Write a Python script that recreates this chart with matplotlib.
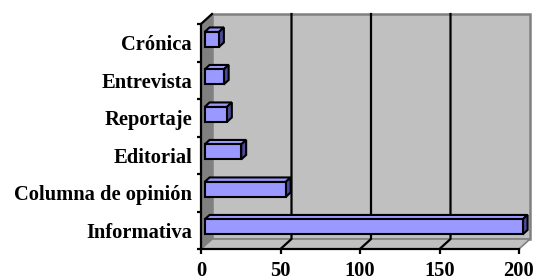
import matplotlib
matplotlib.use("Agg")
import matplotlib.pyplot as plt
from matplotlib.patches import Polygon

categories = ["Informativa", "Columna de opinión", "Editorial",
              "Reportaje", "Entrevista", "Crónica"]
values = [200, 51, 23, 14, 12, 9]
xticks = [0, 50, 100, 150, 200]

plt.rcParams["font.family"] = ["Liberation Serif", "DejaVu Serif"]
plt.rcParams["font.weight"] = "bold"

W, H = 536, 280
fig = plt.figure(figsize=(W / 100, H / 100), dpi=100)

# front plane of the 3d box, in pixels
left, right, top, bottom = 201, 519, 24, 249
ax = fig.add_axes([left / W, 1 - bottom / H, (right - left) / W, (bottom - top) / H])
xmax = xticks[-1]
n = len(categories)
ax.set_xlim(0, xmax)
ax.set_ylim(-0.5, n - 0.5)
ax.patch.set_visible(False)

# depth of the box (back wall offset), converted to data units
dx = 11 * xmax / (right - left)
dy = 10 * n / (bottom - top)
y0, y1 = -0.5, n - 0.5

wall = "#c0c0c0"
side = "#808080"
# back wall, floor, side wall
ax.add_patch(Polygon([(dx, y0 + dy), (xmax + dx, y0 + dy), (xmax + dx, y1 + dy), (dx, y1 + dy)],
                     closed=True, fc=wall, ec=side, lw=1.8, clip_on=False, zorder=0))
ax.add_patch(Polygon([(0, y0), (xmax, y0), (xmax + dx, y0 + dy), (dx, y0 + dy)],
                     closed=True, fc=wall, ec=side, lw=1.2, clip_on=False, zorder=0))
ax.add_patch(Polygon([(0, y0), (dx, y0 + dy), (dx, y1 + dy), (0, y1)],
                     closed=True, fc=side, ec=side, lw=1, clip_on=False, zorder=0))

# gridlines on floor and back wall
for t in xticks[1:-1]:
    ax.plot([t, t + dx, t + dx], [y0, y0 + dy, y1 + dy], color="black", lw=1.6,
            clip_on=False, zorder=1)
ax.plot([0, dx], [y1, y1 + dy], color="black", lw=1.6, clip_on=False, zorder=1)

# 3d bars
d0, d1, h = 0.33, 0.78, 0.2
for i, v in enumerate(values):
    fx, fy = d0 * dx, i + d0 * dy
    bx, by = d1 * dx, i + d1 * dy
    front = [(fx, fy - h), (fx + v, fy - h), (fx + v, fy + h), (fx, fy + h)]
    topf = [(fx, fy + h), (fx + v, fy + h), (bx + v, by + h), (bx, by + h)]
    rightf = [(fx + v, fy - h), (bx + v, by - h), (bx + v, by + h), (fx + v, fy + h)]
    for pts, c in [(topf, "#9999ff"), (rightf, "#4c4c99"), (front, "#9999ff")]:
        ax.add_patch(Polygon(pts, closed=True, fc=c, ec="black", lw=1.5,
                             joinstyle="miter", clip_on=False, zorder=2))

for s in ["top", "right"]:
    ax.spines[s].set_visible(False)
for s in ["left", "bottom"]:
    ax.spines[s].set_linewidth(1.6)
    ax.spines[s].set_zorder(3)

ax.set_xticks(xticks)
ax.set_xticklabels([str(t) for t in xticks])
ax.set_yticks(range(n))
ax.set_yticklabels(categories)
ax.set_yticks([i - 0.5 for i in range(n + 1)], minor=True)
ax.tick_params(axis="x", length=3.6, width=1.6, pad=5, labelsize=14.8)
ax.tick_params(axis="y", which="major", length=0, pad=6.5, labelsize=14.8)
ax.tick_params(axis="y", which="minor", length=3, width=1.6)

fig.savefig("out.png", dpi=100)
